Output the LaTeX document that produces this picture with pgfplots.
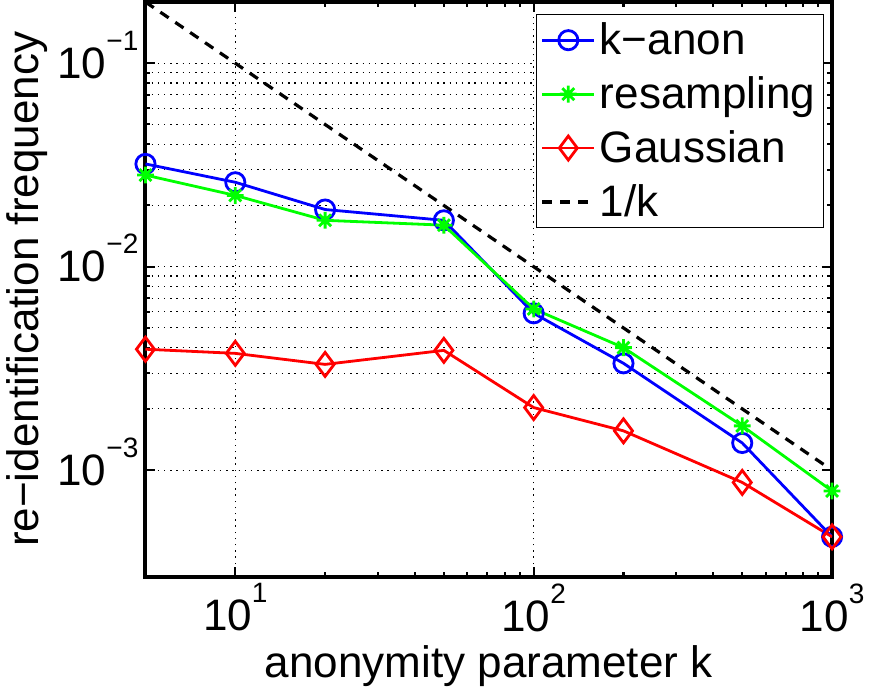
\documentclass[border=0pt]{standalone}
\usepackage{pgfplots}
\pgfplotsset{compat=1.18}
\usepackage{fontspec}
\setmainfont{Liberation Sans}

% MATLAB style power-of-ten labels (y version has the exponent smashed)
\newcommand{\pw}[1]{10\raisebox{14pt}{\fontsize{14}{14}\selectfont #1}}
\newcommand{\pwy}[1]{10\raisebox{14pt}[0pt][0pt]{\fontsize{14}{14}\selectfont #1}}
\newcommand{\lbl}{\fontsize{22}{26}\selectfont}

% MATLAB '*' marker: plus and cross together
\pgfdeclareplotmark{mstar}{%
  \pgfpathmoveto{\pgfqpoint{-\pgfplotmarksize}{0pt}}%
  \pgfpathlineto{\pgfqpoint{\pgfplotmarksize}{0pt}}%
  \pgfpathmoveto{\pgfqpoint{0pt}{-\pgfplotmarksize}}%
  \pgfpathlineto{\pgfqpoint{0pt}{\pgfplotmarksize}}%
  \pgfpathmoveto{\pgfqpoint{-0.707\pgfplotmarksize}{-0.707\pgfplotmarksize}}%
  \pgfpathlineto{\pgfqpoint{0.707\pgfplotmarksize}{0.707\pgfplotmarksize}}%
  \pgfpathmoveto{\pgfqpoint{-0.707\pgfplotmarksize}{0.707\pgfplotmarksize}}%
  \pgfpathlineto{\pgfqpoint{0.707\pgfplotmarksize}{-0.707\pgfplotmarksize}}%
  \pgfusepathqstroke}

\begin{document}
\begin{tikzpicture}
\begin{axis}[
    xmode=log, ymode=log,
    scale only axis,
    width=343pt, height=287pt,
    xmin=5, xmax=1000,
    ymin=3e-4, ymax=0.2,
    xtick={10,100,1000},
    xticklabels={\pw{1},\pw{2},\pw{3}},
    ytick={1e-3,1e-2,1e-1},
    yticklabels={\pwy{−3},\pwy{−2},\pwy{−1}},
    tick align=inside,
    major tick length=5pt, minor tick length=2.5pt,
    xmajorgrids=true, ymajorgrids=true, yminorgrids=true,
    grid style={black, line width=0.55pt, dash pattern=on 0.7pt off 2.4pt},
    axis line style={line width=2pt},
    tick style={black, line width=1pt},
    tick label style={font=\lbl},
    label style={font=\lbl},
    xlabel={anonymity parameter k},
    ylabel={re−identification frequency},
    ylabel style={yshift=-2pt},
    legend style={at={(1,1)}, anchor=north east, xshift=-4pt, yshift=-6pt,
        font=\lbl, draw=black, line width=0.7pt, row sep=5.5pt,
        inner sep=2pt},
    legend cell align=left,
    legend image code/.code={%
        \draw[mark repeat=2, mark phase=2, #1]
        plot coordinates {(0pt,0pt)(13pt,0pt)(26pt,0pt)};},
]

\addplot[color=blue, line width=1.4pt, mark=o, mark size=4.8pt]
    coordinates {
    (5,0.032)(10,0.026)(20,0.0191)(50,0.0169)(100,0.0059)(200,0.00335)(500,0.00136)(1000,0.00047)
    };
\addplot[color=green, line width=1.4pt, mark=mstar, mark size=4.2pt]
    coordinates {
    (5,0.0282)(10,0.0224)(20,0.0169)(50,0.0160)(100,0.0062)(200,0.0040)(500,0.00165)(1000,0.00079)
    };
\addplot[color=red, line width=1.4pt, mark=diamond, mark size=6pt]
    coordinates {
    (5,0.00393)(10,0.00375)(20,0.00331)(50,0.00388)(100,0.00203)(200,0.00156)(500,0.00087)(1000,0.00047)
    };
\addplot[color=black, line width=1.6pt, dash pattern=on 5pt off 4pt]
    coordinates {(5,0.2)(10,0.1)(20,0.05)(50,0.02)(100,0.01)(200,0.005)(500,0.002)(1000,0.001)};

\legend{k−anon, resampling, Gaussian, 1/k}
\end{axis}
\end{tikzpicture}
\end{document}
